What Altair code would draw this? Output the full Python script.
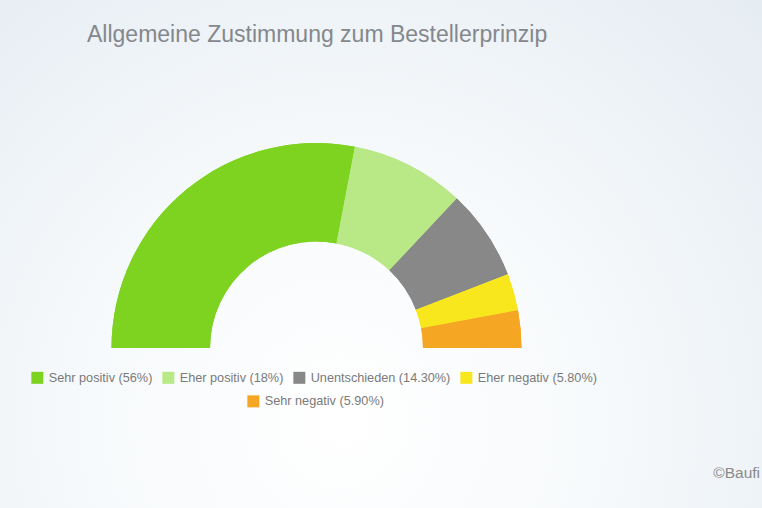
import math
import altair as alt
import pandas as pd

title_text = "Allgemeine Zustimmung zum Bestellerprinzip"
categories = ["Sehr positiv", "Eher positiv", "Unentschieden", "Eher negativ", "Sehr negativ"]
values = [56, 18, 14.3, 5.8, 5.9]
value_labels = ["56%", "18%", "14.30%", "5.80%", "5.90%"]
colors = ["#7ed321", "#b8e986", "#888888", "#f8e71c", "#f5a623"]
credit = "©Baufi"

labels = [f"{c} ({v})" for c, v in zip(categories, value_labels)]
df = pd.DataFrame({
    "label": labels,
    "label_b": labels,
    "value": values,
    "idx": list(range(len(values))),
})

W, H = 762, 508
CX, CY = 316.5, 348
R_OUT, R_IN = 205, 106.5
FONT = "Liberation Sans"

bg = alt.Chart(alt.Data(values=[{}])).mark_rect(
    color=alt.RadialGradient(
        gradient="radial",
        x1=0.45, y1=0.72, r1=0.0,
        x2=0.45, y2=0.72, r2=0.8,
        stops=[
            alt.GradientStop(offset=0.0, color="#ffffff"),
            alt.GradientStop(offset=0.45, color="#f6f9fb"),
            alt.GradientStop(offset=1.0, color="#e4ebf2"),
        ],
    )
).encode(x=alt.value(0), x2=alt.value(W), y=alt.value(0), y2=alt.value(H))

theta = alt.Theta("value:Q", stack=True, scale=alt.Scale(range=[-math.pi / 2, math.pi / 2]))
order = alt.Order("idx:Q")

legend_common = dict(
    orient="none",
    direction="horizontal",
    title=None,
    symbolType="square",
    symbolSize=144,
    symbolStrokeWidth=0,
    symbolOpacity=1,
    labelFont=FONT,
    labelFontSize=12.7,
    labelColor="#7a7a7a",
    labelOffset=5,
    columnPadding=9,
    padding=0,
)

arcs1 = alt.Chart(df).mark_arc(
    x=CX, y=CY, radius=R_OUT, radius2=R_IN, strokeWidth=0
).encode(
    theta=theta,
    order=order,
    color=alt.Color(
        "label:N",
        scale=alt.Scale(domain=labels, range=colors),
        legend=alt.Legend(values=labels[:4], columns=4, legendX=31, legendY=371, **legend_common),
    ),
)

# second legend row: separate scale (same mapping, listed in reverse so it is not merged)
arcs2 = alt.Chart(df).mark_arc(
    x=CX, y=CY, radius=R_OUT, radius2=R_IN, strokeWidth=0
).encode(
    theta=theta,
    order=order,
    fill=alt.Fill(
        "label_b:N",
        scale=alt.Scale(domain=labels[::-1], range=colors[::-1]),
        legend=alt.Legend(values=labels[4:], columns=1, legendX=247, legendY=395, **legend_common),
    ),
)

title = alt.Chart(alt.Data(values=[{}])).mark_text(
    text=title_text, font=FONT, fontSize=23, color="#84888c", align="left", baseline="alphabetic"
).encode(x=alt.value(87), y=alt.value(42))

credit_mark = alt.Chart(alt.Data(values=[{}])).mark_text(
    text=credit, font=FONT, fontSize=15.5, color="#8a8a8a", align="right", baseline="alphabetic"
).encode(x=alt.value(760), y=alt.value(478))

chart = alt.layer(bg, arcs1, arcs2, title, credit_mark).properties(
    width=W, height=H, padding=0, autosize=alt.AutoSizeParams(type="none"), background="#eef2f5"
).configure_view(stroke=None)

chart.save("out.html", embed_options={"renderer": "svg", "actions": False})
